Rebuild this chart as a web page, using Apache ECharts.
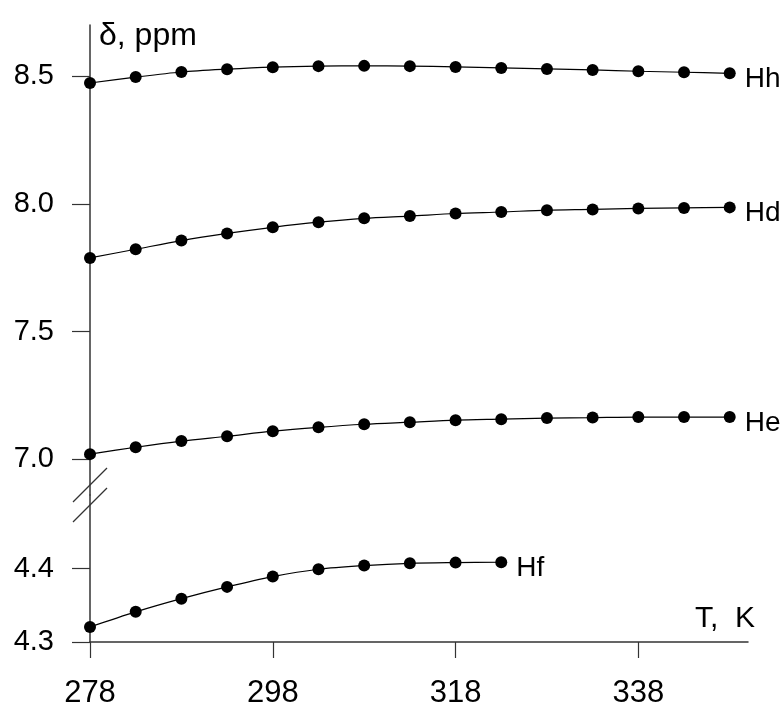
<!DOCTYPE html>
<html>
<head>
<meta charset="utf-8">
<script src="https://cdn.jsdelivr.net/npm/echarts@6/dist/echarts.min.js"></script>
<style>
html,body{margin:0;padding:0;background:#fff;}
#chart{width:783px;height:711px;}
</style>
</head>
<body>
<div id="chart"></div>
<script>
// ---- data ----
const temps = [278, 283, 288, 293, 298, 303, 308, 313, 318, 323, 328, 333, 338, 343, 348];
const Hh = [8.473, 8.496, 8.516, 8.527, 8.535, 8.539, 8.540, 8.539, 8.536, 8.532, 8.528, 8.524, 8.519, 8.515, 8.511];
const Hd = [7.788, 7.822, 7.856, 7.884, 7.908, 7.928, 7.943, 7.952, 7.962, 7.968, 7.975, 7.978, 7.982, 7.984, 7.986];
const He = [7.020, 7.047, 7.071, 7.090, 7.110, 7.125, 7.137, 7.145, 7.153, 7.157, 7.161, 7.163, 7.165, 7.165, 7.165];
const Hf = [4.3205, 4.341, 4.359, 4.375, 4.389, 4.399, 4.404, 4.407, 4.408, 4.4085];
const xTicks = [278, 298, 318, 338];
const yTicksUpper = [7.0, 7.5, 8.0, 8.5];
const yTicksLower = [4.3, 4.4];
const seriesNames = ['Hh', 'Hd', 'He', 'Hf'];

const FONT = "'Liberation Sans', Arial, sans-serif";
const AX = '#333';

function makeData(vals, name) {
  return vals.map((v, i) => {
    const item = { value: [temps[i], v] };
    if (i === vals.length - 1) {
      item.label = {
        show: true, position: 'right', distance: 9, formatter: name,
        fontSize: 28, color: '#000', fontFamily: FONT, offset: [0, 6]
      };
    }
    return item;
  });
}

function lineSeries(name, vals, idx) {
  return {
    name: name, type: 'line', xAxisIndex: idx, yAxisIndex: idx,
    data: makeData(vals, name),
    smooth: 0.3,
    symbol: 'circle', symbolSize: 12,
    lineStyle: { color: '#000', width: 1.2 },
    itemStyle: { color: '#000' },
    emphasis: { disabled: true },
    z: 3
  };
}

const chart = echarts.init(document.getElementById('chart'), null, { renderer: 'canvas' });

const yAxisCommon = {
  type: 'value',
  axisLine: { show: true, lineStyle: { color: AX, width: 1.5 } },
  axisTick: { show: true, inside: false, length: 18, lineStyle: { color: AX, width: 1.2 } },
  axisLabel: { color: '#000', fontSize: 29, fontFamily: FONT, margin: 36,
               formatter: v => v.toFixed(1) },
  splitLine: { show: false }
};

chart.setOption({
  animation: false,
  backgroundColor: '#fff',
  textStyle: { fontFamily: FONT },
  title: [
    { text: 'δ, ppm', left: 99, top: 20, padding: 0,
      textStyle: { fontSize: 32, fontWeight: 'normal', color: '#000', fontFamily: FONT } },
    { text: 'T,  K', right: 28, top: 604, padding: 0,
      textStyle: { fontSize: 30, fontWeight: 'normal', color: '#000', fontFamily: FONT } }
  ],
  grid: [
    { left: 90, right: 35, top: 25, height: 470 },
    { left: 90, right: 35, top: 495, height: 147 }
  ],
  xAxis: [
    { type: 'value', gridIndex: 0, min: 278, max: 350, show: false },
    { type: 'value', gridIndex: 1, min: 278, max: 350,
      axisLine: { show: true, onZero: false, lineStyle: { color: AX, width: 1.5 } },
      axisTick: { show: true, inside: false, length: 16, customValues: xTicks, lineStyle: { color: AX, width: 1.2 } },
      axisLabel: { color: '#000', fontSize: 31, fontFamily: FONT, margin: 36, customValues: xTicks },
      splitLine: { show: false } }
  ],
  yAxis: [
    Object.assign({}, yAxisCommon, { gridIndex: 0, min: 6.86, max: 8.7,
      axisTick: Object.assign({}, yAxisCommon.axisTick, { customValues: yTicksUpper }),
      axisLabel: Object.assign({}, yAxisCommon.axisLabel, { customValues: yTicksUpper }) }),
    Object.assign({}, yAxisCommon, { gridIndex: 1, min: 4.3, max: 4.5,
      axisTick: Object.assign({}, yAxisCommon.axisTick, { customValues: yTicksLower }),
      axisLabel: Object.assign({}, yAxisCommon.axisLabel, { customValues: yTicksLower }) })
  ],
  series: [
    lineSeries(seriesNames[0], Hh, 0),
    lineSeries(seriesNames[1], Hd, 0),
    lineSeries(seriesNames[2], He, 0),
    lineSeries(seriesNames[3], Hf, 1)
  ]
});

// axis break marks (two parallel slashes across the y axis line)
const ax = chart.convertToPixel({ xAxisIndex: 1 }, 278);
const yb = chart.convertToPixel({ yAxisIndex: 1 }, 4.5);
const slash = (cy) => ({
  type: 'line', silent: true, z: 10,
  shape: { x1: ax - 17, y1: cy + 17, x2: ax + 17, y2: cy - 17 },
  style: { stroke: AX, lineWidth: 1.3 }
});
chart.setOption({ graphic: [slash(yb - 10), slash(yb + 10)] });
</script>
</body>
</html>
